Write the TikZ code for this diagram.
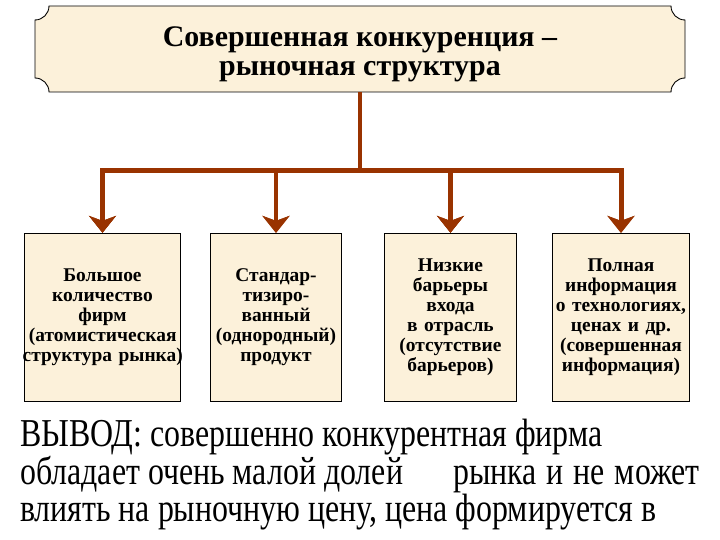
\documentclass[tikz,border=0pt]{standalone}
\usepackage{fontspec}
\setmainfont{Liberation Serif}
\usetikzlibrary{arrows.meta}

\definecolor{parch}{RGB}{252,241,218}
\definecolor{rust}{RGB}{153,51,0}

\tikzset{
	feature/.style={draw=black, line width=0.9, fill=parch, inner xsep=0, inner ysep=0, minimum height=169, align=center, font=\bfseries\fontsize{19.5}{20}\selectfont},
	branch/.style={draw=rust, line width=5, -{Stealth[length=17, width=27, inset=5]}},
	conclusion/.style={anchor=base west, inner sep=0, align=left, font=\fontsize{32}{27.4}\selectfont, yscale=1.24, transform shape}
}

\begin{document}
\begin{tikzpicture}[line cap=butt,line join=miter,x=1bp,y=1bp]
		\useasboundingbox (0,0) rectangle (720,540);
		\def\r{14};
		
		% plaque at the top
		\draw[line width=0.9, fill=parch] (35+\r,534) -- (685-\r,534) arc[start angle=180, end angle=270, radius=\r]
			-- (685,448+\r) arc[start angle=90, end angle=180, radius=\r]
			-- (35+\r,448) arc[start angle=0, end angle=90, radius=\r]
			-- (35,534-\r) arc[start angle=270, end angle=360, radius=\r] -- cycle;
		\node[inner sep=0, minimum width=650, minimum height=86, align=center, font=\bfseries\fontsize{30}{29}\selectfont] (title) at (360,486)
			{Совершенная конкуренция --\\рыночная структура};
		
		% four features
		\node[feature, text width=157] (firms) at (102.5,222.5) {Большое\\количество\\фирм\\\makebox[157bp]{(атомистическая}\\\makebox[157bp]{структура рынка)}};
		\node[feature, text width=132] (product) at (276,222.5) {Стандар-\\тизиро-\\ванный\\(однородный)\\продукт};
		\node[feature, text width=133] (entry) at (450.5,222.5) {Низкие\\барьеры\\входа\\в отрасль\\(отсутствие\\барьеров)};
		\node[feature, text width=138] (info) at (621,222.5) {Полная\\информация\\о технологиях,\\ценах и др.\\(совершенная\\информация)};
		
		\draw[rust, line width=5] ([yshift=5]title.south) -- ++(0,-78) coordinate (split);
		\foreach \n in {firms, product, entry, info}
		{
			\draw[branch] ([xshift=-2.5]split) -| (\n.north);
			\draw[branch] ([xshift=2.5]split) -| (\n.north);
		}
		
		% conclusion below
		\node[conclusion] (concl) at (20,18) {ВЫВОД: совершенно конкурентная фирма\\обладает очень малой долей\hspace{50bp}рынка\hspace{2bp} и\hspace{2bp} не\hspace{2bp} может\\влиять на рыночную цену, цена формируется в};
		
	\end{tikzpicture}
\end{document}
